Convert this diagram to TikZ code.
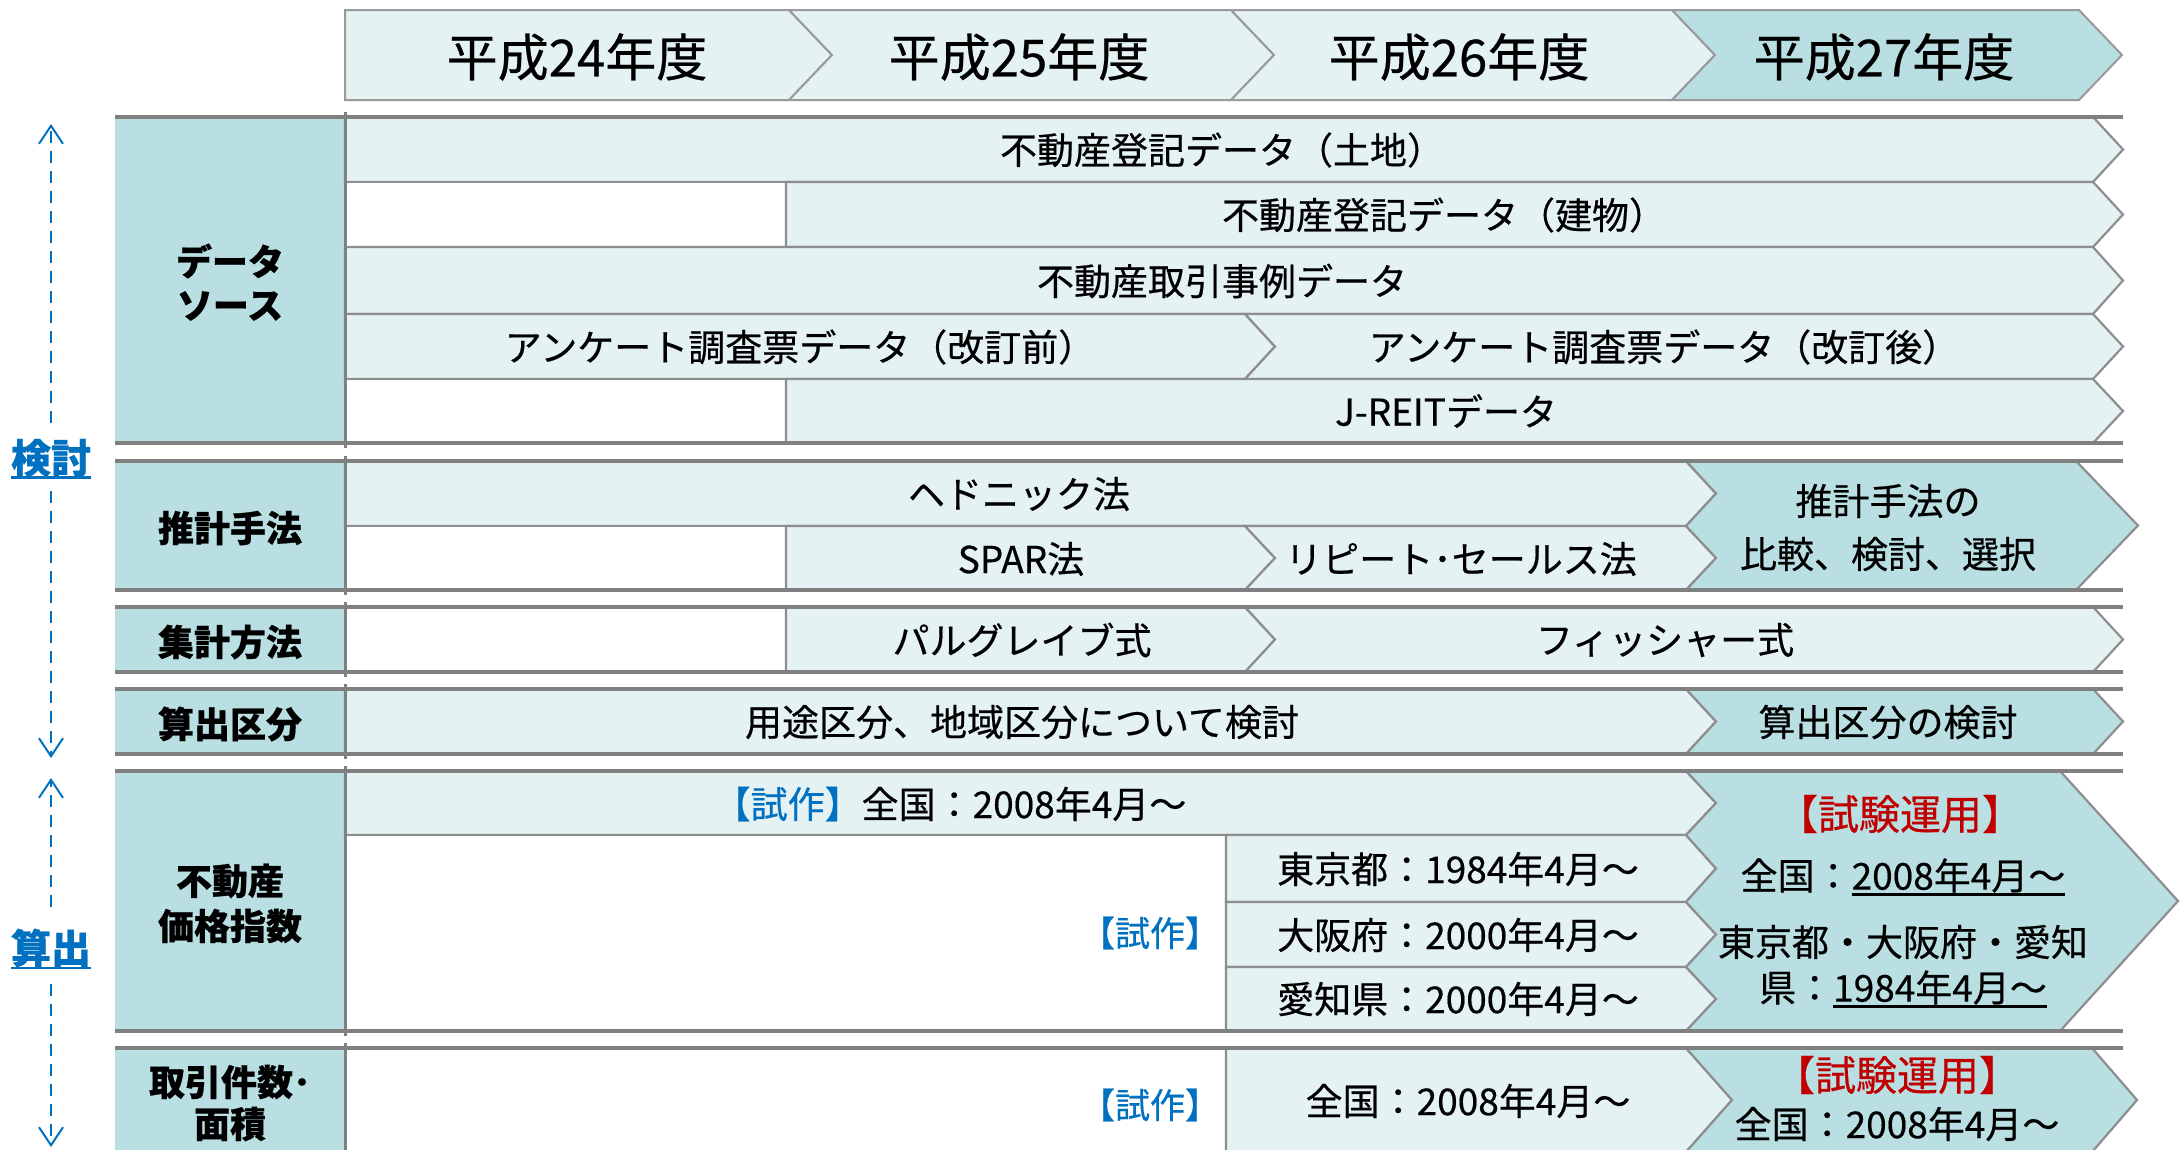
\documentclass[tikz,border=0pt]{standalone}
\usepackage{fontspec}
\setmainfont{Noto Sans CJK JP}[FakeBold=0.5, BoldFeatures={FakeBold=0.6}]
\usetikzlibrary{arrows.meta}
\definecolor{lightc}{HTML}{E5F2F4}
\definecolor{darkc}{HTML}{B9DFE3}
\definecolor{gline}{HTML}{808080}
\definecolor{cline}{HTML}{8E8E8E}
\definecolor{hline}{HTML}{9A9A9A}
\definecolor{blu}{HTML}{0070C0}
\definecolor{rd}{HTML}{C00000}
% thick underline
\newcommand\thickul[1]{\setbox0\hbox{#1}\leavevmode\rlap{\rule[-6pt]{\wd0}{2.8pt}}\box0}
% pentagon: style, x0, x1, top, bottom, depth
\newcommand\pentcell[6]{\draw[#1] (#2,#4) -- (#3,#4) -- ({#3+#6},{(#4+#5)/2}) -- (#3,#5) -- (#2,#5) -- cycle;}
% chevron: style, x0, x1, top, bottom, depth
\newcommand\chevcell[6]{\draw[#1] (#2,#4) -- (#3,#4) -- ({#3+#6},{(#4+#5)/2}) -- (#3,#5) -- (#2,#5) -- ({#2+#6},{(#4+#5)/2}) -- cycle;}
\newcommand\panelfill[2]{\fill[darkc] (115,#1) rectangle (345,#2);}
\newcommand\seclines[2]{\draw[secline] (115,#1) -- (2123,#1); \draw[secline] (115,#2) -- (2123,#2); \draw[vline] (345,{#1-5}) -- (345,{#2+5});}
\tikzset{
  lcell/.style={fill=lightc, draw=cline, line width=2.2pt, line join=miter},
  dcell/.style={fill=darkc, draw=cline, line width=2.2pt, line join=miter},
  wcell/.style={fill=white, draw=cline, line width=2.2pt},
  hcell/.style={fill=lightc, draw=hline, line width=2pt, line join=miter},
  hdcell/.style={fill=darkc, draw=hline, line width=2pt, line join=miter},
  secline/.style={draw=gline, line width=4pt},
  vline/.style={draw=gline, line width=3pt},
  hdr/.style={font=\fontsize{51}{60}\selectfont, inner sep=0pt},
  txt/.style={font=\fontsize{37}{44}\selectfont, inner sep=0pt},
  lbl/.style={font=\bfseries\fontsize{36}{42}\selectfont, inner sep=0pt},
  side/.style={font=\bfseries\fontsize{40}{48}\selectfont, text=blu, inner sep=0pt},
  trial/.style={font=\fontsize{35}{42}\selectfont, text=blu, inner sep=0pt},
  redt/.style={font=\fontsize{41}{48}\selectfont, text=rd, inner sep=0pt},
  darr/.style={draw=blu, line width=2pt, dash pattern=on 12pt off 8pt, -{Straight Barb[length=18pt,width=24pt,line width=2pt]}},
}
\begin{document}
\begin{tikzpicture}[x=1pt,y=-1pt]
\useasboundingbox (0,0) rectangle (2181,1149);
\clip (0,0) rectangle (2181,1149);
\fill[white] (0,0) rectangle (2181,1149);

% ---------- header ----------
\pentcell{hcell}{345}{789}{10}{100}{43}
\chevcell{hcell}{789}{1231}{10}{100}{43}
\chevcell{hcell}{1231}{1672}{10}{100}{43}
\chevcell{hdcell}{1672}{2079}{10}{100}{43}
\node[hdr] (h1) at (577,57) {平成24年度};
\node[hdr] (h2) at (1019,57) {平成25年度};
\node[hdr] (h3) at (1459,57) {平成26年度};
\node[hdr] (h4) at (1884,57) {平成27年度};

% ---------- section 1: data source ----------
\panelfill{117}{443}
\pentcell{lcell}{345}{2093}{117}{182}{30}
\draw[wcell] (345,182) rectangle (786,247);
\pentcell{lcell}{786}{2093}{182}{247}{30}
\pentcell{lcell}{345}{2093}{247}{314}{30}
\pentcell{lcell}{345}{1245}{314}{379}{30}
\chevcell{lcell}{1245}{2093}{314}{379}{30}
\draw[wcell] (345,379) rectangle (786,443);
\pentcell{lcell}{786}{2093}{379}{443}{30}
\seclines{117}{443}
\node[lbl] (ds1) at (230,261) {データ};
\node[lbl] (ds2) at (230,306) {ソース};
\node[txt] (r11) at (1222,150) {不動産登記データ（土地）};
\node[txt] (r12) at (1444,215) {不動産登記データ（建物）};
\node[txt] (r13) at (1222,281) {不動産取引事例データ};
\node[txt] (r14a) at (800,347) {アンケート調査票データ（改訂前）};
\node[txt] (r14b) at (1664,347) {アンケート調査票データ（改訂後）};
\node[txt] (r15) at (1446,411) {J-REITデータ};

% ---------- section 2: estimation method ----------
\panelfill{461}{590}
\pentcell{lcell}{345}{1686}{461}{526}{30}
\draw[wcell] (345,526) rectangle (786,590);
\pentcell{lcell}{786}{1245}{526}{590}{30}
\chevcell{lcell}{1245}{1686}{526}{590}{30}
\draw[dcell] (1686,461) -- (2076,461) -- (2138,525.5) -- (2076,590) -- (1686,590) -- (1716,558) -- (1686,526) -- (1716,493.5) -- cycle;
\seclines{461}{590}
\node[lbl] (em) at (230,528) {推計手法};
\node[txt] (r21) at (1019,494) {ヘドニック法};
\node[txt] (r22a) at (1021,559) {SPAR法};
\node[txt] (r22b) at (1461,559) {リピート･セールス法};
\node[txt] (r2c1) at (1888,501) {推計手法の};
\node[txt] (r2c2) at (1888,554) {比較、検討、選択};

% ---------- section 3: aggregation ----------
\panelfill{607}{672}
\draw[wcell] (345,607) rectangle (786,672);
\pentcell{lcell}{786}{1245}{607}{672}{30}
\chevcell{lcell}{1245}{2093}{607}{672}{30}
\seclines{607}{672}
\node[lbl] (ag) at (230,642) {集計方法};
\node[txt] (r31) at (1022,640) {パルグレイブ式};
\node[txt] (r32) at (1665,640) {フィッシャー式};

% ---------- section 4: classification ----------
\panelfill{689}{754}
\pentcell{lcell}{345}{1686}{689}{754}{30}
\chevcell{dcell}{1686}{2093}{689}{754}{30}
\seclines{689}{754}
\node[lbl] (cl) at (230,724) {算出区分};
\node[txt] (r41) at (1022,722) {用途区分、地域区分について検討};
\node[txt] (r42) at (1888,722) {算出区分の検討};

% ---------- section 5: price index ----------
\panelfill{771}{1031}
\pentcell{lcell}{345}{1686}{771}{835}{30}
\draw[wcell] (345,835) rectangle (1226,1031);
\pentcell{lcell}{1226}{1686}{835}{902}{30}
\pentcell{lcell}{1226}{1686}{902}{967}{30}
\pentcell{lcell}{1226}{1686}{967}{1031}{30}
\draw[dcell] (1686,771) -- (2060,771) -- (2178,901) -- (2060,1031) -- (1686,1031) -- (1716,999) -- (1686,967) -- (1716,934.5) -- (1686,902) -- (1716,868.5) -- (1686,835) -- (1716,803) -- cycle;
\seclines{771}{1031}
\node[lbl] (pi1) at (230,881) {不動産};
\node[lbl] (pi2) at (230,926) {価格指数};
\node[txt] (r51) at (950,804) {\textcolor{blu}{【試作】}全国：2008年4月～};
\node[trial] (t5) at (1150,933) {【試作】};
\node[txt] (r52) at (1458,869) {東京都：1984年4月～};
\node[txt] (r53) at (1458,935) {大阪府：2000年4月～};
\node[txt] (r54) at (1458,999) {愛知県：2000年4月～};
\node[redt] (op5) at (1900,814) {【試験運用】};
\node[txt] (n5a) at (1903,877) {全国：\thickul{2008年4月～}};
\node[txt] (n5b) at (1903,942) {東京都・大阪府・愛知};
\node[txt] (n5c) at (1903,989) {県：\thickul{1984年4月～}};

% ---------- section 6: transactions ----------
\panelfill{1048}{1160}
\draw[wcell] (345,1048) rectangle (1226,1152);
\pentcell{lcell}{1226}{1686}{1048}{1152}{46}
\draw[dcell] (1686,1048) -- (2092,1048) -- (2137,1100) -- (2092,1152) -- (1686,1152) -- (1732,1100) -- cycle;
\draw[secline] (115,1048) -- (2123,1048);
\draw[vline] (345,1043) -- (345,1160);
\node[lbl] (tr1) at (230,1082) {取引件数･};
\node[lbl] (tr2) at (230,1124) {面積};
\node[trial] (t6) at (1150,1105) {【試作】};
\node[txt] (r61) at (1468,1101) {全国：2008年4月～};
\node[redt] (op6) at (1897,1075) {【試験運用】};
\node[txt] (n6) at (1897,1124) {全国：2008年4月～};

% ---------- side arrows ----------
\node[side] (kt) at (51,459) {\thickul{検討}};
\node[side] (sd) at (51,949) {\thickul{算出}};
\coordinate (ktop) at (51,124);
\coordinate (kbot) at (51,758);
\coordinate (stop) at (51,778);
\coordinate (sbot) at (51,1147);
\draw[darr, shorten <=16pt] (kt) -- (ktop);
\draw[darr, shorten <=12pt] (kt) -- (kbot);
\draw[darr, shorten <=22pt] (sd) -- (stop);
\draw[darr, shorten <=14pt] (sd) -- (sbot);
\end{tikzpicture}
\end{document}
